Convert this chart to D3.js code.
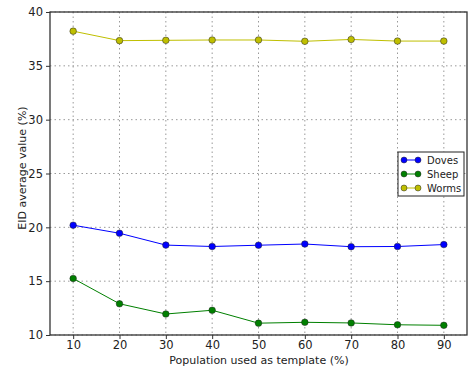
<!DOCTYPE html>
<html lang="en">
<head>
<meta charset="UTF-8">
<title>EID average</title>
<script src="https://cdn.jsdelivr.net/npm/d3@7"></script>
<style>
  body { margin: 0; background: #fff; }
  text { font-family: "DejaVu Sans", sans-serif; fill: #222; }
</style>
</head>
<body>
<svg id="chart" width="468" height="373"></svg>
<script>
const populations = [10, 20, 30, 40, 50, 60, 70, 80, 90]
const doves = [20.2, 19.45, 18.35, 18.22, 18.34, 18.45, 18.2, 18.22, 18.4]
const sheep = [15.25, 12.9, 11.95, 12.3, 11.1, 11.18, 11.12, 10.95, 10.9]
const worms = [38.22, 37.34, 37.37, 37.4, 37.4, 37.28, 37.45, 37.3, 37.3]
const xTicks = [10, 20, 30, 40, 50, 60, 70, 80, 90]
const yTicks = [10, 15, 20, 25, 30, 35, 40]

const series = [
  { name: 'Doves', values: doves, color: '#0000ff' },
  { name: 'Sheep', values: sheep, color: '#008000' },
  { name: 'Worms', values: worms, color: '#bfbf00' }
]

let svg = d3.select('#chart')
let pLeft = 50, pRight = 467, pTop = 12, pBottom = 335

let x = d3.scaleLinear().domain([5, 95]).range([pLeft, pRight])
let y = d3.scaleLinear().domain([10, 40]).range([pBottom, pTop])

// grid
let grid = svg.append('g').attr('stroke', '#999').attr('stroke-dasharray', '1.5,3').attr('stroke-width', 1)
grid.selectAll('.gx').data(xTicks).enter().append('line')
  .attr('x1', d => x(d)).attr('x2', d => x(d)).attr('y1', pTop).attr('y2', pBottom)
grid.selectAll('.gy').data(yTicks).enter().append('line')
  .attr('x1', pLeft).attr('x2', pRight).attr('y1', d => y(d)).attr('y2', d => y(d))

// axes
let xAxis = d3.axisBottom(x).tickValues(xTicks).tickSize(4).tickPadding(2)
let gx = svg.append('g').attr('transform', `translate(0,${pBottom})`).call(xAxis)
let yAxis = d3.axisLeft(y).tickValues(yTicks).tickSize(4).tickPadding(3)
let gy = svg.append('g').attr('transform', `translate(${pLeft},0)`).call(yAxis)
;[gx, gy].forEach(g => {
  g.select('.domain').remove()
  g.selectAll('text').attr('font-size', 11.5).attr('font-family', '"DejaVu Sans", sans-serif').attr('fill', '#222')
  g.selectAll('line').attr('stroke', '#333')
})

// frame
svg.append('rect').attr('x', pLeft).attr('y', pTop)
  .attr('width', pRight - pLeft).attr('height', pBottom - pTop)
  .attr('fill', 'none').attr('stroke', '#333').attr('stroke-width', 1.3)

// series
let line = d3.line().x((d, i) => x(populations[i])).y(d => y(d))
series.forEach(s => {
  svg.append('path').datum(s.values).attr('d', line)
    .attr('fill', 'none').attr('stroke', s.color).attr('stroke-width', 1)
  svg.selectAll(null).data(s.values).enter().append('circle')
    .attr('cx', (d, i) => x(populations[i])).attr('cy', d => y(d)).attr('r', 3.3)
    .attr('fill', s.color).attr('stroke', '#222').attr('stroke-width', 0.5)
})

// axis labels
svg.append('text').attr('x', 259).attr('y', 364)
  .attr('text-anchor', 'middle').attr('font-size', 11)
  .text('Population used as template (%)')
svg.append('text').attr('transform', 'translate(26,168) rotate(-90)')
  .attr('text-anchor', 'middle').attr('font-size', 11)
  .text('EID average value (%)')

// legend
let lg = svg.append('g').attr('transform', 'translate(398,152)')
lg.append('rect').attr('width', 66).attr('height', 44)
  .attr('fill', '#fff').attr('stroke', '#222').attr('stroke-width', 1)
let items = lg.selectAll('.item').data(series).enter().append('g')
  .attr('transform', (d, i) => `translate(0,${8 + i * 14})`)
items.append('line').attr('x1', 6).attr('x2', 20).attr('stroke', d => d.color).attr('stroke-width', 1)
items.selectAll('circle').data(d => [d, d]).enter().append('circle')
  .attr('cx', (d, i) => i ? 20 : 6).attr('r', 3)
  .attr('fill', d => d.color).attr('stroke', '#222').attr('stroke-width', 0.5)
items.append('text').attr('x', 29).attr('y', 3.5).attr('font-size', 10).text(d => d.name)
</script>
</body>
</html>
